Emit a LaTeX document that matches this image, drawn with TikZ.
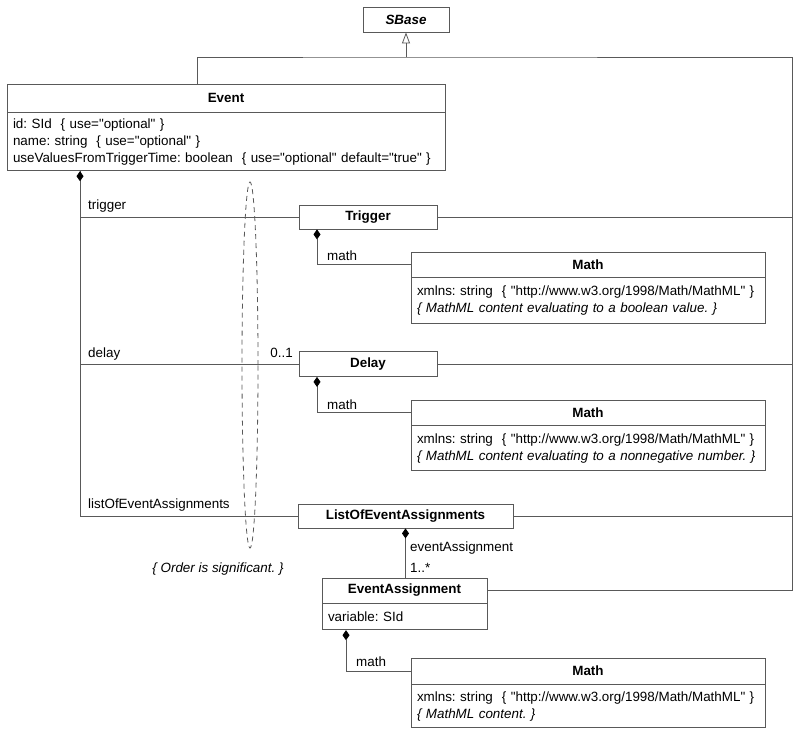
\documentclass[tikz,border=0pt]{standalone}
\usepackage{fontspec}
\newfontfamily\umlfont{Liberation Sans}
\usetikzlibrary{arrows.meta}
\usetikzlibrary{positioning}

\definecolor{linegray}{gray}{0.35}
\newcommand\umltext{\umlfont\fontsize{13.4}{17}\selectfont}

\tikzset{
  classhead/.style={rectangle, draw=linegray, line width=0.8pt, font=\umltext\bfseries, minimum height=25pt, inner sep=0pt, text centered},
  classattr/.style={rectangle, draw=linegray, line width=0.8pt, font=\umltext, align=left, inner xsep=6pt, inner ysep=0pt},
  link/.style={draw=linegray, line width=0.8pt},
  owns/.style={link, {Diamond[length=10pt, width=7pt, fill=black, color=black]}-},
  isa/.style={link, -{Triangle[open, length=11pt, width=8pt]}},
  rolelabel/.style={anchor=base west, inner sep=0pt, font=\umltext},
}

\begin{document}
\frenchspacing
\begin{tikzpicture}[x=1pt, y=-1pt]
    \useasboundingbox (0,0) rectangle (800,740);

    % Parent class
    \node [classhead, minimum width=86pt, font=\umltext\bfseries\itshape] (sbase) at (406,19.5) {SBase};

    % Event
    \node [classhead, minimum width=438pt, minimum height=28pt] (event) at (226,98) {Event};
    \node [classattr, below=0pt of event, text width=426pt, minimum height=58pt] (eventattr)
        {\mbox{id: SId\ \ \{ use="optional" \}}\\
         \mbox{name: string\ \ \{ use="optional" \}}\\
         \mbox{useValuesFromTriggerTime: boolean\ \ \{ use="optional" default="true" \}}};

    % Children of Event
    \node [classhead, minimum width=138pt, minimum height=24pt] (trigger) at (368,217) {Trigger};
    \node [classhead, minimum width=138pt] (delay) at (368,364) {Delay};
    \node [classhead, minimum width=215pt, minimum height=24pt] (loea) at (405.5,516) {ListOfEventAssignments};
    \node [classhead, minimum width=165pt] (ea) at (404.5,590.5) {EventAssignment};
    \node [classattr, below=0pt of ea, text width=153pt, minimum height=26pt] (eaattr) {variable: SId};

    % Math objects
    \node [classhead, minimum width=354pt] (math1) at (588,264.5) {Math};
    \node [classattr, below=0pt of math1, text width=342pt, minimum height=46pt] (math1attr)
        {\mbox{xmlns: string\ \ \{ "http://www.w3.org/1998/Math/MathML" \}}\\
         \mbox{\itshape\{ MathML content evaluating to a boolean value. \}}};
    \node [classhead, minimum width=354pt] (math2) at (588,412.5) {Math};
    \node [classattr, below=0pt of math2, text width=342pt, minimum height=45pt] (math2attr)
        {\mbox{xmlns: string\ \ \{ "http://www.w3.org/1998/Math/MathML" \}}\\
         \mbox{\itshape\{ MathML content evaluating to a nonnegative number. \}}};
    \node [classhead, minimum width=354pt, minimum height=26pt] (math3) at (588,671) {Math};
    \node [classattr, below=0pt of math3, text width=342pt, minimum height=43pt] (math3attr)
        {\mbox{xmlns: string\ \ \{ "http://www.w3.org/1998/Math/MathML" \}}\\
         \mbox{\itshape\{ MathML content. \}}};

    % Inheritance
    \coordinate (hub) at (406,57);
    \coordinate (rail) at (792,57);
    \draw [isa] (hub) -- (sbase);
    \draw [link] ([xshift=-29pt]event.north) |- (hub) -- (rail) |- (ea.east);
    \draw [link] (trigger.east) -- (trigger.east -| rail);
    \draw [link] (delay.east) -- (delay.east -| rail);
    \draw [link] (loea.east) -- (loea.east -| rail);

    % Composition
    \draw [link] ([xshift=-146pt]eventattr.south) |- (trigger.west);
    \draw [link] ([xshift=-146pt]eventattr.south) |- (delay.west);
    \draw [owns] ([xshift=-146pt]eventattr.south) |- (loea.west);
    \draw [owns] ([xshift=-51pt]trigger.south) |- (math1.west);
    \draw [owns] ([xshift=-51pt]delay.south) |- (math2.west);
    \draw [owns] (loea.south) -- (loea.south |- ea.north);
    \draw [owns] ([xshift=-58.5pt]eaattr.south) |- (math3.west);

    % Role names and multiplicities
    \node [rolelabel] (triggerrole) at (88,209) {trigger};
    \node [rolelabel] (delayrole) at (88,357) {delay};
    \node [rolelabel, anchor=base east] (delaymult) at (293,357) {0..1};
    \node [rolelabel] (loearole) at (88,508) {listOfEventAssignments};
    \node [rolelabel] (math1role) at (327,260) {math};
    \node [rolelabel] (math2role) at (327,409) {math};
    \node [rolelabel] (earole) at (410,551) {eventAssignment};
    \node [rolelabel] (eamult) at (410,572) {1..*};
    \node [rolelabel] (math3role) at (356,666) {math};

    % Ordering constraint
    \draw [linegray, line width=0.8pt, dash pattern=on 5pt off 4pt] (250,365) ellipse [x radius=8pt, y radius=183pt];
    \node [anchor=base, inner sep=0pt, font=\umltext\itshape] (order) at (218,572) {\{ Order is significant. \}};

\end{tikzpicture}
\end{document}
